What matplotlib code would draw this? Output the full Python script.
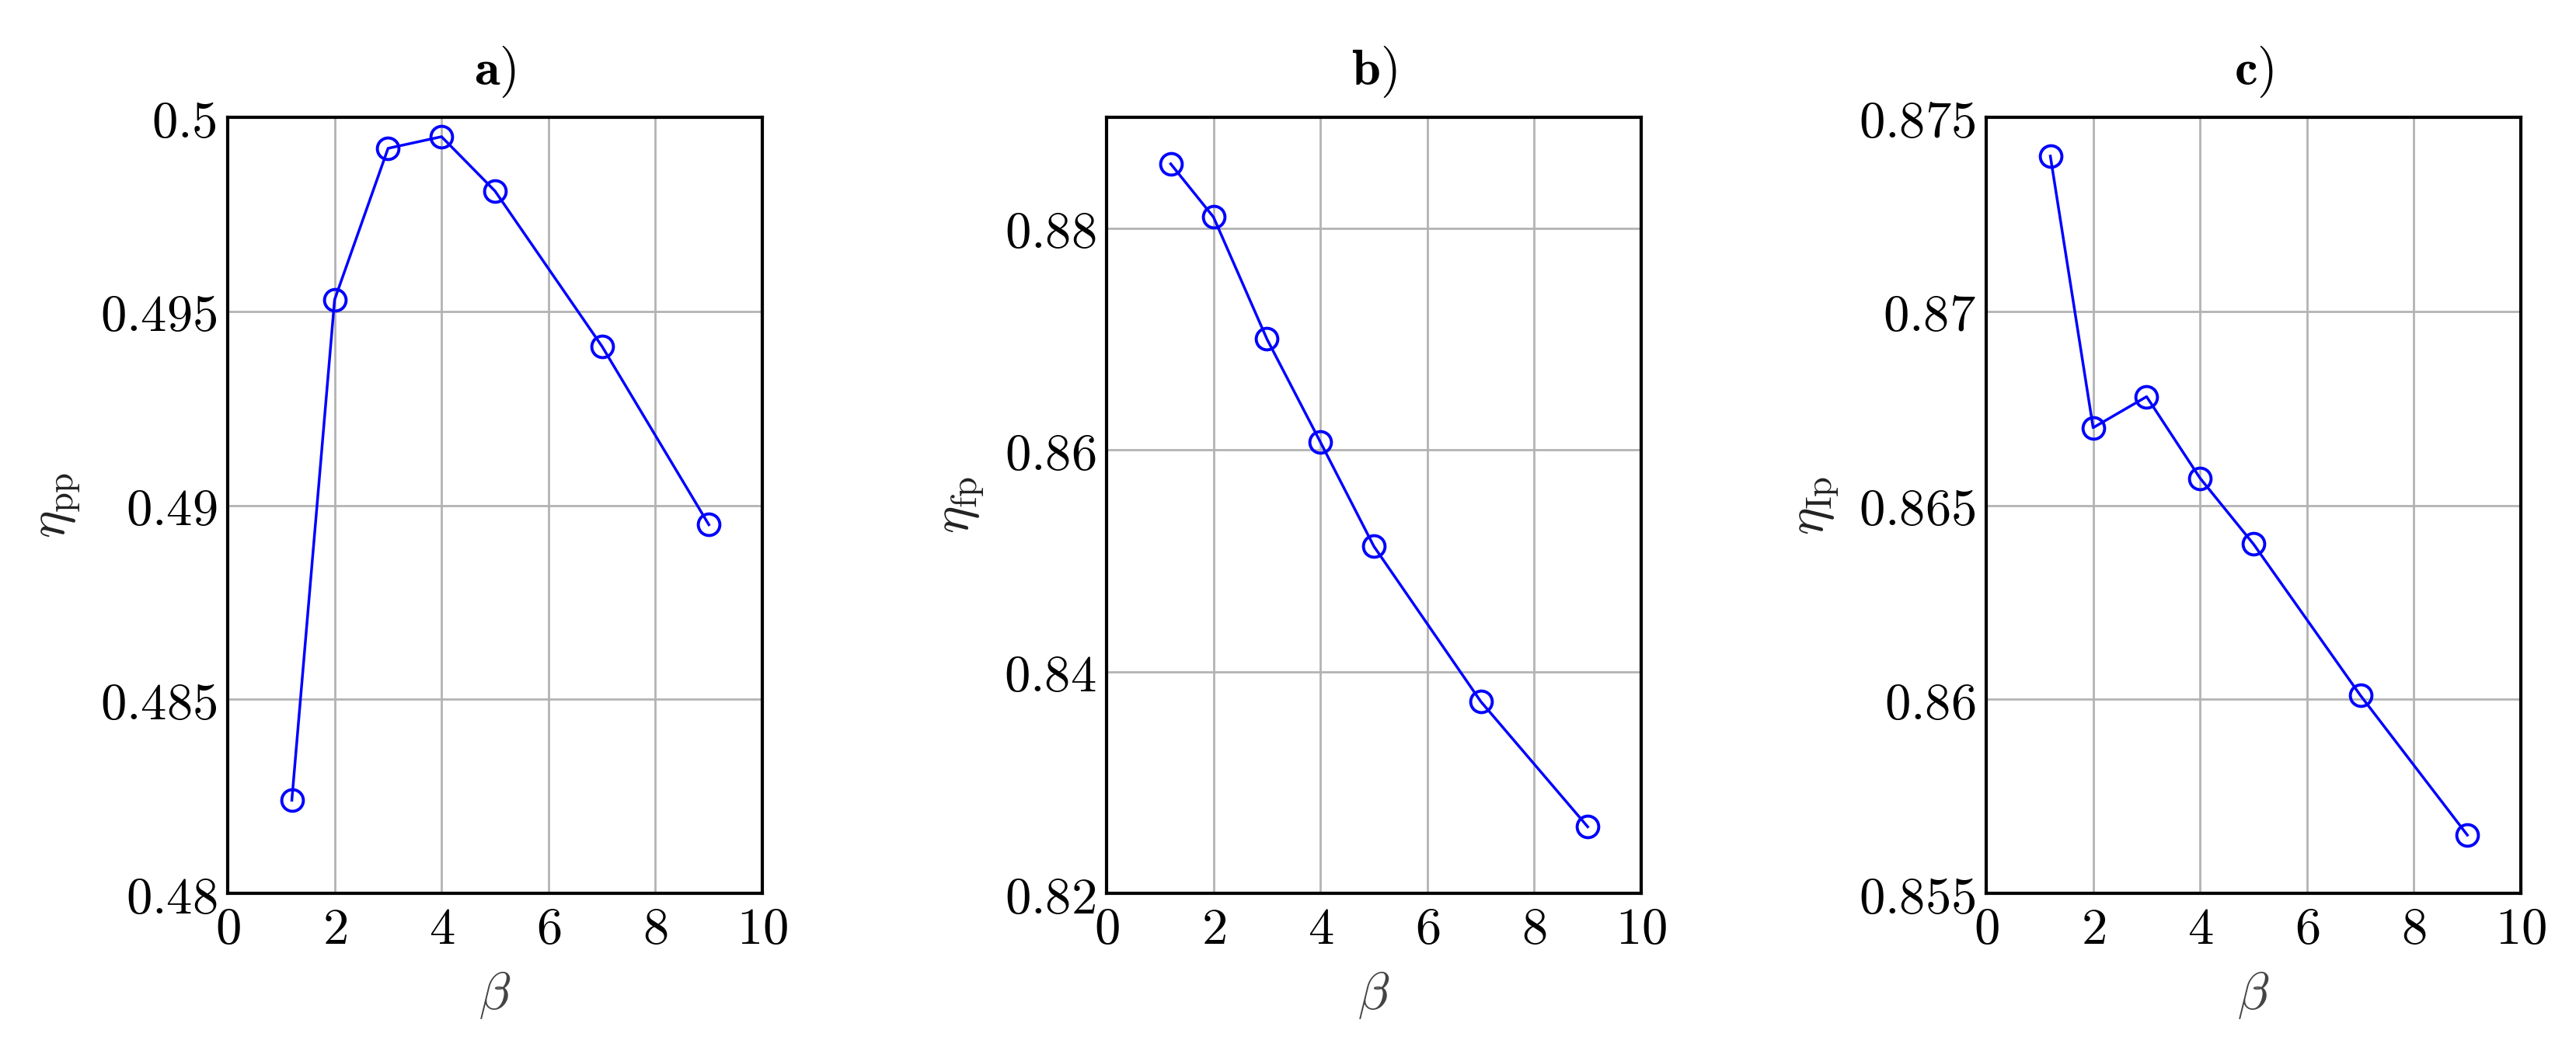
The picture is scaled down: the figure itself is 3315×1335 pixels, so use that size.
import matplotlib
matplotlib.use("Agg")
import matplotlib.pyplot as plt
from matplotlib.ticker import FuncFormatter, MultipleLocator

plt.rcParams['mathtext.fontset'] = 'cm'
plt.rcParams['font.family'] = 'serif'
plt.rcParams['font.serif'] = ['DejaVu Serif']

beta = [1.2, 2, 3, 4, 5, 7, 9]
eta_pp = [0.4824, 0.4953, 0.4992, 0.4995, 0.4981, 0.4941, 0.4895]
eta_fp = [0.8858, 0.8810, 0.8700, 0.8607, 0.8513, 0.8373, 0.8260]
eta_Ip = [0.8740, 0.8670, 0.8678, 0.8657, 0.8640, 0.8601, 0.8565]

titles = ['a)', 'b)', 'c)']
ylabels = [r'$\eta_{\mathrm{pp}}$', r'$\eta_{\mathrm{fp}}$', r'$\eta_{\mathrm{Ip}}$']
ylims = [(0.48, 0.5), (0.82, 0.89), (0.855, 0.875)]
ysteps = [0.005, 0.02, 0.005]
series = [eta_pp, eta_fp, eta_Ip]

W, H = 3315, 1335
fig = plt.figure(figsize=(W/100, H/100), dpi=100)
lefts = [293, 1424, 2556]
fs = 48
for i in range(3):
    ax = fig.add_axes([lefts[i]/W, 1 - 1150/H, 688/W, 999/H])
    ax.plot(beta, series[i], color='#0000ff', lw=2.5, marker='o', ms=20,
            mfc='none', mec='#0000ff', mew=2.8)
    ax.set_xlim(0, 10)
    ax.set_ylim(*ylims[i])
    ax.xaxis.set_major_locator(MultipleLocator(2))
    ax.yaxis.set_major_locator(MultipleLocator(ysteps[i]))
    ax.xaxis.set_major_formatter(FuncFormatter(lambda v, p: r'$%g$' % round(v, 4)))
    ax.yaxis.set_major_formatter(FuncFormatter(lambda v, p: r'$%g$' % round(v, 4)))
    ax.grid(True, color='#b3b3b3', lw=2)
    ax.set_axisbelow(True)
    ax.tick_params(labelsize=fs, direction='in', length=0, width=1.5, pad=10)
    for s in ax.spines.values():
        s.set_linewidth(3)
    ax.set_xlabel(r'$\beta$', fontsize=fs, color='#444444', labelpad=14)
    ax.set_ylabel(ylabels[i], fontsize=fs, color='#222222', labelpad=16)
    ax.set_title(r'$\mathbf{%s}$' % titles[i], fontsize=fs, pad=30)

fig.savefig('out.png', dpi=100)
